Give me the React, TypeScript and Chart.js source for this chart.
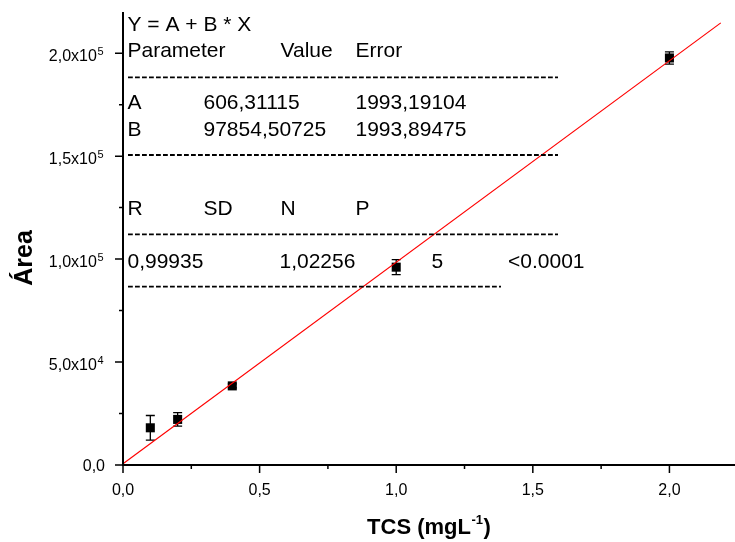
import React, { useEffect, useRef } from "react";
import { Chart, registerables } from "chart.js";

Chart.register(...registerables);

// ---- data ----
const concentrations = [0.1, 0.2, 0.4, 1.0, 2.0];
const areas = [18070, 22140, 38420, 96080, 197670];
const areaErrors = [5960, 3250, 1000, 3630, 2950];

// linear fit line endpoints (Y = A + B*X)
const fitX = [0, 2.188];
const fitY = [606.31, 214711];

const xTicks = [0, 0.5, 1.0, 1.5, 2.0];
const xTickLabels = ["0,0", "0,5", "1,0", "1,5", "2,0"];
const xMinorTicks = [0.25, 0.75, 1.25, 1.75];
const yTicks = [0, 50000, 100000, 150000, 200000];
const yTickMantissa = ["0,0", "5,0x10", "1,0x10", "1,5x10", "2,0x10"];
const yTickExponent = ["", "4", "5", "5", "5"];
const yMinorTicks = [25000, 75000, 125000, 175000];

const xTitleMain = "TCS (mgL";
const xTitleSup = "-1";
const xTitleEnd = ")";
const yTitle = "Área";

const fitEquation = "Y = A + B * X";
const fitHeader = ["Parameter", "Value", "Error"];
const paramRows = [
  ["A", "606,31115", "1993,19104"],
  ["B", "97854,50725", "1993,89475"],
];
const statsHeader = ["R", "SD", "N", "P"];
const statsValues = ["0,99935", "1,02256", "5", "<0.0001"];

const FONT = '"Liberation Sans", Arial, Helvetica, sans-serif';

const originPlugin = {
  id: "originStyle",
  beforeDatasetsDraw(chart: any) {
    const { ctx } = chart;
    const x = chart.scales.x;
    const y = chart.scales.y;
    ctx.save();
    ctx.strokeStyle = "#000";
    ctx.lineWidth = 1.3;
    concentrations.forEach((c, i) => {
      const px = x.getPixelForValue(c);
      const top = y.getPixelForValue(areas[i] + areaErrors[i]);
      const bot = y.getPixelForValue(areas[i] - areaErrors[i]);
      ctx.beginPath();
      ctx.moveTo(px, top);
      ctx.lineTo(px, bot);
      ctx.moveTo(px - 4.5, top);
      ctx.lineTo(px + 4.5, top);
      ctx.moveTo(px - 4.5, bot);
      ctx.lineTo(px + 4.5, bot);
      ctx.stroke();
    });
    ctx.restore();
  },
  afterDraw(chart: any) {
    const { ctx, chartArea } = chart;
    const x = chart.scales.x;
    const y = chart.scales.y;
    const L = chartArea.left;
    const B = chartArea.bottom;
    ctx.save();
    ctx.strokeStyle = "#000";
    ctx.fillStyle = "#000";

    // axes
    ctx.lineWidth = 2;
    ctx.beginPath();
    ctx.moveTo(L, chartArea.top);
    ctx.lineTo(L, B + 1);
    ctx.moveTo(L - 1, B);
    ctx.lineTo(chartArea.right, B);
    ctx.stroke();

    // ticks
    ctx.lineWidth = 1.5;
    ctx.beginPath();
    xTicks.forEach((v) => {
      const px = x.getPixelForValue(v);
      ctx.moveTo(px, B);
      ctx.lineTo(px, B + 8);
    });
    xMinorTicks.forEach((v) => {
      const px = x.getPixelForValue(v);
      ctx.moveTo(px, B);
      ctx.lineTo(px, B + 4);
    });
    yTicks.forEach((v) => {
      const py = y.getPixelForValue(v);
      ctx.moveTo(L, py);
      ctx.lineTo(L - 8, py);
    });
    yMinorTicks.forEach((v) => {
      const py = y.getPixelForValue(v);
      ctx.moveTo(L, py);
      ctx.lineTo(L - 4, py);
    });
    ctx.stroke();

    // x tick labels
    ctx.font = `16px ${FONT}`;
    ctx.textAlign = "center";
    ctx.textBaseline = "alphabetic";
    xTicks.forEach((v, i) => {
      ctx.fillText(xTickLabels[i], x.getPixelForValue(v), B + 30);
    });

    // y tick labels with superscript exponents
    const right = L - 20;
    yTicks.forEach((v, i) => {
      const py = y.getPixelForValue(v);
      const exp = yTickExponent[i];
      ctx.textAlign = "left";
      if (exp) {
        ctx.font = `11px ${FONT}`;
        const ew = ctx.measureText(exp).width;
        ctx.font = `16px ${FONT}`;
        const mw = ctx.measureText(yTickMantissa[i]).width;
        const start = right - ew - mw;
        ctx.fillText(yTickMantissa[i], start, py + 8);
        ctx.font = `11px ${FONT}`;
        ctx.fillText(exp, start + mw + 0.5, py + 1.5);
      } else {
        ctx.font = `16px ${FONT}`;
        const mw = ctx.measureText(yTickMantissa[i]).width;
        ctx.fillText(yTickMantissa[i], right - mw + 2, py + 6);
      }
    });

    // x title
    ctx.font = `bold 22px ${FONT}`;
    const w1 = ctx.measureText(xTitleMain).width;
    const w3 = ctx.measureText(xTitleEnd).width;
    ctx.font = `bold 13px ${FONT}`;
    const w2 = ctx.measureText(xTitleSup).width;
    const cx = (chartArea.left + chartArea.right) / 2;
    let sx = cx - (w1 + w2 + w3 + 1) / 2;
    const by = 534;
    ctx.textAlign = "left";
    ctx.font = `bold 22px ${FONT}`;
    ctx.fillText(xTitleMain, sx, by);
    ctx.font = `bold 13px ${FONT}`;
    ctx.fillText(xTitleSup, sx + w1 + 0.5, by - 10);
    ctx.font = `bold 22px ${FONT}`;
    ctx.fillText(xTitleEnd, sx + w1 + w2 + 1, by);

    // y title
    ctx.save();
    ctx.translate(32, 258);
    ctx.rotate(-Math.PI / 2);
    ctx.font = `bold 25px ${FONT}`;
    ctx.textAlign = "center";
    ctx.fillText(yTitle, 0, 0);
    ctx.restore();

    // fit results box
    ctx.font = `21px ${FONT}`;
    ctx.textAlign = "left";
    const c1 = 127.5, c2 = 203.5, c3 = 280.5, c4 = 355.5;
    ctx.fillText(fitEquation, c1, 30.7);
    ctx.fillText(fitHeader[0], c1, 57.3);
    ctx.fillText(fitHeader[1], c3, 57.3);
    ctx.fillText(fitHeader[2], c4, 57.3);
    const rowY = [109.3, 135.7];
    paramRows.forEach((r, i) => {
      ctx.fillText(r[0], c1, rowY[i]);
      ctx.fillText(r[1], c2, rowY[i]);
      ctx.fillText(r[2], c4, rowY[i]);
    });
    ctx.fillText(statsHeader[0], c1, 215);
    ctx.fillText(statsHeader[1], c2, 215);
    ctx.fillText(statsHeader[2], c3, 215);
    ctx.fillText(statsHeader[3], c4, 215);
    ctx.fillText(statsValues[0], c1, 268.3);
    ctx.fillText(statsValues[1], c3 - 1, 268.3);
    ctx.fillText(statsValues[2], 431.4, 268.3);
    ctx.fillText(statsValues[3], 508, 268.3);

    ctx.lineWidth = 1.8;
    ctx.setLineDash([4.8, 2.2]);
    ctx.beginPath();
    [77.3, 155, 234.3].forEach((yy) => {
      ctx.moveTo(128, yy);
      ctx.lineTo(558, yy);
    });
    ctx.moveTo(128, 286.7);
    ctx.lineTo(501, 286.7);
    ctx.stroke();
    ctx.setLineDash([]);

    ctx.restore();
  },
};

export default function App() {
  const ref = useRef<HTMLCanvasElement | null>(null);
  useEffect(() => {
    if (!ref.current) return;
    const chart = new Chart(ref.current, {
      type: "scatter",
      data: {
        datasets: [
          {
            data: fitX.map((v, i) => ({ x: v, y: fitY[i] })),
            showLine: true,
            borderColor: "#ff0000",
            backgroundColor: "#ff0000",
            borderWidth: 1.2,
            pointRadius: 0,
            pointHoverRadius: 0,
            fill: false,
          },
          {
            data: concentrations.map((c, i) => ({ x: c, y: areas[i] })),
            pointStyle: "rect",
            pointRadius: 6.4,
            pointHoverRadius: 6.4,
            pointBorderWidth: 0,
            backgroundColor: "#000",
            borderColor: "#000",
            showLine: false,
          },
        ],
      },
      options: {
        responsive: false,
        animation: false,
        events: [],
        layout: { autoPadding: false, padding: { left: 123, top: 12, right: 0, bottom: 77 } },
        plugins: { legend: { display: false }, tooltip: { enabled: false } },
        scales: {
          x: {
            type: "linear",
            min: 0,
            max: 2.24,
            grid: { display: false, drawTicks: false, tickLength: 0 },
            ticks: { display: false, padding: 0 },
            border: { display: false },
          },
          y: {
            type: "linear",
            min: 0,
            max: 220000,
            grid: { display: false, drawTicks: false, tickLength: 0 },
            ticks: { display: false, padding: 0 },
            border: { display: false },
          },
        },
      } as any,
      plugins: [originPlugin],
    });
    return () => chart.destroy();
  }, []);
  return (
    <div style={{ position: "absolute", left: 0, top: 0, width: 735, height: 542, background: "#fff" }}>
      <canvas ref={ref} width={735} height={542} style={{ display: "block" }} />
    </div>
  );
}
